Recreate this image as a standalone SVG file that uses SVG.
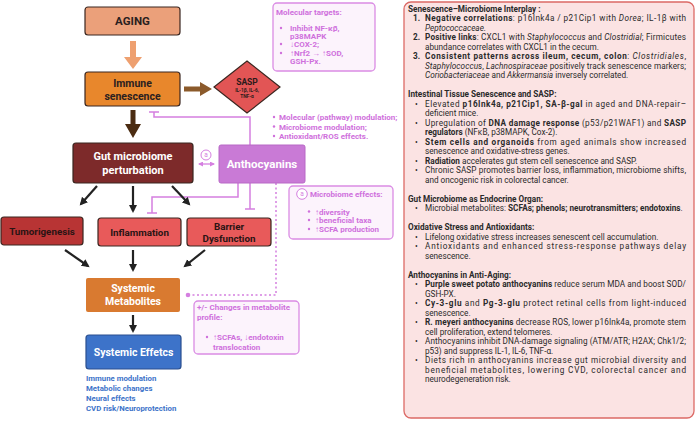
<svg xmlns="http://www.w3.org/2000/svg" width="697" height="421" viewBox="0 0 697 421">
<defs>
<marker id="ah" markerUnits="userSpaceOnUse" markerWidth="9" markerHeight="9" refX="6" refY="4" orient="auto"><path d="M0,0 L8,4 L0,8 z" fill="#222"/></marker>
<marker id="pa" markerUnits="userSpaceOnUse" markerWidth="6" markerHeight="6" refX="4" refY="2.5" orient="auto"><path d="M0,0 L5,2.5 L0,5 z" fill="#d57fe0"/></marker>
<marker id="pb" markerUnits="userSpaceOnUse" markerWidth="6" markerHeight="6" refX="1" refY="2.5" orient="auto"><path d="M5,0 L0,2.5 L5,5 z" fill="#d57fe0"/></marker>
</defs>
<style>
text{font-family:Roboto,"Liberation Sans",Arial,sans-serif}
.box{stroke:#3a2620;stroke-width:1.2}
.bt{font-weight:bold;text-anchor:middle}
.pk{fill:#cf70dc;font-weight:bold;font-size:8px}
.pbox{fill:#fcf3fc;stroke:#da8ce4;stroke-width:1.3}
.inh{fill:none;stroke:#d57fe0;stroke-width:1.5}
.blk{stroke:#222;stroke-width:2.2;marker-end:url(#ah)}
.bl{fill:#3d73c9;font-weight:bold;font-size:7.8px}
.rp{font-size:8.2px;fill:#2a2a2a}
.b{font-weight:bold}
.i{font-style:italic}
</style>
<rect width="697" height="421" fill="#ffffff"/>

<g id="connectors">
<polygon points="130,41 136,41 136,57 142,57 133,69 124,57 130,57" fill="#eea070"/>
<polygon points="184,86.5 200,86.5 200,82 212,89 200,96 200,91.5 184,91.5" fill="#8b5a2b"/>
<polygon points="130.5,110 135.5,110 135.5,124 141,124 133,138 125,124 130.5,124" fill="#4b2c12"/>
<path class="inh" d="M250,145 V117 H154 V112 M149,112 H159"/>
<path class="inh" d="M238,183 V197 H152 V213 M147,213 H157"/>
<path class="inh" d="M250,183 V209 M245,209 H255"/>
<path d="M276,183 V295 H189" fill="none" stroke="#d57fe0" stroke-width="1.5" stroke-dasharray="2 2.5"/>
<circle cx="188" cy="295" r="2.3" fill="#d57fe0"/>
<line x1="199" y1="164" x2="214" y2="164" stroke="#d57fe0" stroke-width="1.3" marker-end="url(#pa)" marker-start="url(#pb)"/>
<line class="blk" x1="97" y1="186" x2="81" y2="204"/>
<line class="blk" x1="133" y1="186" x2="133" y2="211"/>
<line class="blk" x1="172" y1="186" x2="189" y2="204"/>
<line class="blk" x1="65" y1="250" x2="88" y2="266"/>
<line class="blk" x1="133" y1="250" x2="133" y2="270"/>
<line class="blk" x1="205" y1="250" x2="185" y2="266"/>
<line class="blk" x1="133" y1="315" x2="133" y2="331"/>
</g>

<g id="aging">
<rect class="box" x="85" y="7" width="95" height="28" rx="3" fill="#eba07a"/>
<text class="bt" x="132.5" y="25" font-size="11.5" fill="#2a2020">AGING</text>
</g>

<g id="immune">
<rect class="box" x="85" y="72" width="95" height="34" rx="3" fill="#e8872c"/>
<text class="bt" x="132.5" y="86.5" font-size="10.5" fill="#2a2020">Immune</text>
<text class="bt" x="132.5" y="100" font-size="10.5" fill="#2a2020">senescence</text>
</g>

<g id="sasp">
<polygon class="box" points="247,61 280,87 247,113 214,87" fill="#e25555"/>
<text class="bt" x="247" y="85" font-size="8.5" fill="#2a1a1a">SASP</text>
<text class="bt" x="247" y="92" font-size="4.8" fill="#2a1a1a">IL-1β, IL-6,</text>
<text class="bt" x="247" y="97.5" font-size="4.8" fill="#2a1a1a">TNF-α</text>
</g>

<g id="moltargets">
<rect class="pbox" x="273" y="3" width="102" height="68" rx="4"/>
<text class="pk" x="276" y="14.5" font-size="7.8">Molecular targets:</text>
<circle cx="281" cy="28" r="1.2" fill="#cf70dc"/>
<text class="pk" x="290" y="31">Inhibit NF-κβ,</text>
<text class="pk" x="290" y="38.5">p38MAPK</text>
<circle cx="281" cy="44" r="1.2" fill="#cf70dc"/>
<text class="pk" x="290" y="47">↓COX-2;</text>
<circle cx="281" cy="53" r="1.2" fill="#cf70dc"/>
<text class="pk" x="290" y="56">↑Nrf2 → ↑SOD,</text>
<text class="pk" x="290" y="64">GSH-Px.</text>
</g>

<g id="modlist">
<circle cx="274" cy="117" r="1.2" fill="#cf70dc"/>
<text class="pk" x="279" y="120" font-size="8.5">Molecular (pathway) modulation;</text>
<circle cx="274" cy="126.5" r="1.2" fill="#cf70dc"/>
<text class="pk" x="279" y="129.5" font-size="8.5">Microbiome modulation;</text>
<circle cx="274" cy="136" r="1.2" fill="#cf70dc"/>
<text class="pk" x="279" y="139" font-size="8.5">Antioxidant/ROS effects.</text>
</g>

<g id="gut">
<rect class="box" x="73" y="143" width="120" height="40" rx="3" fill="#7d2a2a"/>
<text class="bt" x="133" y="160" font-size="11" fill="#ffffff">Gut microbiome</text>
<text class="bt" x="133" y="174" font-size="11" fill="#ffffff">perturbation</text>
</g>

<g id="label-a">
<circle cx="206" cy="155" r="5" fill="#fff" stroke="#d57fe0" stroke-width="1"/>
<text x="206" y="157.3" font-size="6.5" text-anchor="middle" fill="#d57fe0">a</text>
</g>

<g id="anthocyanins">
<rect x="219" y="145" width="86" height="38" rx="2" fill="#c97ad6" stroke="#b868c6" stroke-width="1"/>
<text class="bt" x="262" y="168" font-size="11.5" fill="#ffffff">Anthocyanins</text>
</g>

<g id="microeffects">
<rect class="pbox" x="289" y="186" width="104" height="53" rx="4"/>
<circle cx="302" cy="194" r="5.3" fill="#fff" stroke="#d57fe0" stroke-width="1"/>
<text x="302" y="196.3" font-size="6.5" text-anchor="middle" fill="#d57fe0">a</text>
<text class="pk" x="310" y="197" font-size="8.2">Microbiome effects:</text>
<circle cx="309" cy="211.5" r="1.2" fill="#cf70dc"/>
<text class="pk" x="315" y="214.5" font-size="8.2">↑diversity</text>
<circle cx="309" cy="220" r="1.2" fill="#cf70dc"/>
<text class="pk" x="315" y="223" font-size="8.2">↑beneficial taxa</text>
<circle cx="309" cy="229" r="1.2" fill="#cf70dc"/>
<text class="pk" x="315" y="232" font-size="8.2">↑SCFA production</text>
</g>

<g id="tumorigenesis">
<rect class="box" x="1" y="217" width="82" height="28" rx="3" fill="#b83434"/>
<text class="bt" x="42" y="234.5" font-size="9.8" fill="#2a1414">Tumorigenesis</text>
</g>

<g id="inflammation">
<rect class="box" x="98" y="218" width="83" height="28" rx="3" fill="#e85a5a"/>
<text class="bt" x="139.5" y="235.5" font-size="9.8" fill="#2a1414">Inflammation</text>
</g>

<g id="barrier">
<rect class="box" x="187" y="218" width="84" height="28" rx="3" fill="#e85a5a"/>
<text class="bt" x="229" y="229.5" font-size="9.8" fill="#2a1414">Barrier</text>
<text class="bt" x="229" y="241.5" font-size="9.8" fill="#2a1414">Dysfunction</text>
</g>

<g id="metabolites">
<rect x="86" y="278" width="94" height="34" rx="2" fill="#d97a30"/>
<text class="bt" x="133" y="292" font-size="10.5" fill="#ffffff">Systemic</text>
<text class="bt" x="133" y="304.5" font-size="10.5" fill="#ffffff">Metabolites</text>
</g>

<g id="changes">
<rect class="pbox" x="194" y="301" width="105" height="53" rx="4"/>
<text class="pk" x="197" y="310" font-size="8.3">+/- Changes in metabolite</text>
<text class="pk" x="197" y="320" font-size="8.3">profile:</text>
<circle cx="207" cy="337" r="1.2" fill="#cf70dc"/>
<text class="pk" x="213" y="340" font-size="8.3">↑SCFAs, ↓endotoxin</text>
<text class="pk" x="213" y="349.5" font-size="8.3">translocation</text>
</g>

<g id="effects">
<rect x="86" y="335" width="95" height="34" rx="3" fill="#3d73c9" stroke="#2a4f8f" stroke-width="1.2"/>
<text class="bt" x="133.5" y="356" font-size="10.5" fill="#ffffff">Systemic Effetcs</text>
<text class="bl" x="86" y="381">Immune modulation</text>
<text class="bl" x="86" y="391">Metabolic changes</text>
<text class="bl" x="86" y="401">Neural effects</text>
<text class="bl" x="86" y="411">CVD risk/Neuroprotection</text>
</g>

<g id="panel">
<rect x="404" y="2" width="290" height="416" rx="7" fill="#fbe3e3" stroke="#dc6a66" stroke-width="1.3"/>
<text class="rp b" x="408" y="11.8">Senescence–Microbiome Interplay :</text>
<text class="rp b" x="413" y="21.3">1.</text>
<text class="rp" x="425" y="21.3" textLength="261" lengthAdjust="spacing"><tspan class="b">Negative correlations</tspan>: p16Ink4a / p21Cip1 with <tspan class="i">Dorea</tspan>; IL-1β with</text>
<text class="rp i" x="425" y="30.8">Peptococcaceae.</text>
<text class="rp b" x="413" y="40.3">2.</text>
<text class="rp" x="425" y="40.3" textLength="261" lengthAdjust="spacing"><tspan class="b">Positive links</tspan>: CXCL1 with <tspan class="i">Staphylococcus</tspan> and <tspan class="i">Clostridial</tspan>; Firmicutes</text>
<text class="rp" x="425" y="49.8">abundance correlates with CXCL1 in the cecum.</text>
<text class="rp b" x="413" y="59.3">3.</text>
<text class="rp" x="425" y="59.3" textLength="261" lengthAdjust="spacing"><tspan class="b">Consistent patterns across ileum, cecum, colon</tspan>: <tspan class="i">Clostridiales</tspan>,</text>
<text class="rp" x="425" y="68.8" textLength="261" lengthAdjust="spacing"><tspan class="i">Staphylococcus</tspan>, <tspan class="i">Lachnospiraceae</tspan> positively track senescence markers;</text>
<text class="rp" x="425" y="78.3"><tspan class="i">Coriobacteriaceae</tspan> and <tspan class="i">Akkermansia</tspan> inversely correlated.</text>

<text class="rp b" x="408" y="97.3">Intestinal Tissue Senescence and SASP:</text>
<text class="rp" x="415" y="106.8">•</text>
<text class="rp" x="425" y="106.8" textLength="261" lengthAdjust="spacing">Elevated <tspan class="b">p16Ink4a, p21Cip1, SA-β-gal</tspan> in aged and DNA-repair–</text>
<text class="rp" x="425" y="116.3">deficient mice.</text>
<text class="rp" x="415" y="125.8">•</text>
<text class="rp" x="425" y="125.8" textLength="261" lengthAdjust="spacing">Upregulation of <tspan class="b">DNA damage response</tspan> (p53/p21WAF1) and <tspan class="b">SASP</tspan></text>
<text class="rp" x="425" y="135.3"><tspan class="b">regulators</tspan> (NFκB, p38MAPK, Cox-2).</text>
<text class="rp" x="415" y="144.8">•</text>
<text class="rp" x="425" y="144.8" textLength="261" lengthAdjust="spacing"><tspan class="b">Stem cells and organoids</tspan> from aged animals show increased</text>
<text class="rp" x="425" y="154.3">senescence and oxidative-stress genes.</text>
<text class="rp" x="415" y="163.8">•</text>
<text class="rp" x="425" y="163.8"><tspan class="b">Radiation</tspan> accelerates gut stem cell senescence and SASP.</text>
<text class="rp" x="415" y="173.3">•</text>
<text class="rp" x="425" y="173.3" textLength="261" lengthAdjust="spacing">Chronic SASP promotes barrier loss, inflammation, microbiome shifts,</text>
<text class="rp" x="425" y="182.8">and oncogenic risk in colorectal cancer.</text>

<text class="rp b" x="408" y="201.8">Gut Microbiome as Endocrine Organ:</text>
<text class="rp" x="415" y="211.3">•</text>
<text class="rp" x="425" y="211.3">Microbial metabolites: <tspan class="b">SCFAs; phenols; neurotransmitters; endotoxins</tspan>.</text>

<text class="rp b" x="408" y="230.3">Oxidative Stress and Antioxidants:</text>
<text class="rp" x="415" y="239.8">•</text>
<text class="rp" x="425" y="239.8">Lifelong oxidative stress increases senescent cell accumulation.</text>
<text class="rp" x="415" y="249.3">•</text>
<text class="rp" x="425" y="249.3" textLength="261" lengthAdjust="spacing">Antioxidants and enhanced stress-response pathways delay</text>
<text class="rp" x="425" y="258.8">senescence.</text>

<text class="rp b" x="408" y="277.8">Anthocyanins in Anti-Aging:</text>
<text class="rp" x="415" y="287.3">•</text>
<text class="rp" x="425" y="287.3" textLength="261" lengthAdjust="spacing"><tspan class="b">Purple sweet potato anthocyanins</tspan> reduce serum MDA and boost SOD/</text>
<text class="rp" x="425" y="296.8">GSH-PX.</text>
<text class="rp" x="415" y="306.3">•</text>
<text class="rp" x="425" y="306.3" textLength="261" lengthAdjust="spacing"><tspan class="b">Cy-3-glu</tspan> and <tspan class="b">Pg-3-glu</tspan> protect retinal cells from light-induced</text>
<text class="rp" x="425" y="315.8">senescence.</text>
<text class="rp" x="415" y="325.3">•</text>
<text class="rp" x="425" y="325.3" textLength="261" lengthAdjust="spacing"><tspan class="b">R. meyeri anthocyanins</tspan> decrease ROS, lower p16Ink4a, promote stem</text>
<text class="rp" x="425" y="334.8">cell proliferation, extend telomeres.</text>
<text class="rp" x="415" y="344.3">•</text>
<text class="rp" x="425" y="344.3" textLength="261" lengthAdjust="spacing">Anthocyanins inhibit DNA-damage signaling (ATM/ATR; H2AX; Chk1/2;</text>
<text class="rp" x="425" y="353.8">p53) and suppress IL-1, IL-6, TNF-α.</text>
<text class="rp" x="415" y="363.3">•</text>
<text class="rp" x="425" y="363.3" textLength="261" lengthAdjust="spacing">Diets rich in anthocyanins increase gut microbial diversity and</text>
<text class="rp" x="425" y="372.8" textLength="261" lengthAdjust="spacing">beneficial metabolites, lowering CVD, colorectal cancer and</text>
<text class="rp" x="425" y="382.3">neurodegeneration risk.</text>
</g>
</svg>
